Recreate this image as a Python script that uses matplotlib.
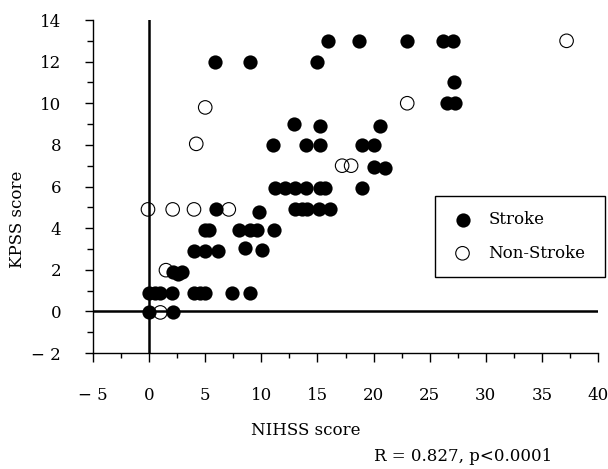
import matplotlib.pyplot as plt
from matplotlib.ticker import MultipleLocator, FixedLocator

plt.rcParams["font.family"] = ["DejaVu Serif"]
plt.rcParams["font.size"] = 12

# Data
stroke_x = [15.9, 18.7, 23.0, 26.2, 27.1,
            5.9, 9.0, 15.0,
            27.2,
            26.5, 27.3,
            12.9, 15.2, 20.6,
            11.0, 14.0, 15.2, 19.0, 20.0,
            20.0, 21.0,
            11.2, 12.1, 13.0, 14.0, 15.2, 15.7, 19.0,
            6.0, 13.0, 13.6, 14.1, 15.1, 16.1, 9.8,
            5.0, 5.3, 8.0, 9.0, 9.6, 11.1,
            4.0, 5.0, 6.1, 8.5, 10.1,
            2.1, 2.6, 2.9,
            0.0, 0.5, 1.0, 2.0, 4.0, 4.5, 5.0, 7.4, 9.0,
            0.0, 2.1]
stroke_y = [13.0, 13.0, 13.0, 13.0, 13.0,
            12.0, 12.0, 12.0,
            11.0,
            10.0, 10.0,
            9.0, 8.9, 8.9,
            8.0, 8.0, 8.0, 8.0, 8.0,
            6.95, 6.9,
            5.93, 5.93, 5.93, 5.93, 5.93, 5.93, 5.93,
            4.9, 4.9, 4.9, 4.9, 4.9, 4.9, 4.78,
            3.93, 3.93, 3.93, 3.93, 3.93, 3.93,
            2.9, 2.9, 2.9, 3.05, 2.95,
            1.9, 1.8, 1.9,
            0.88, 0.88, 0.88, 0.88, 0.88, 0.88, 0.88, 0.88, 0.88,
            -0.05, -0.05]
nonstroke_x = [37.2, 5.0, 4.2, 23.0, 17.2, 18.0, -0.1, 2.1, 4.0, 7.1, 1.5, 1.0]
nonstroke_y = [13.0, 9.8, 8.05, 10.0, 7.0, 7.0, 4.9, 4.9, 4.9, 4.9, 1.98, -0.05]

x_ticks = [-5, 0, 5, 10, 15, 20, 25, 30, 35, 40]
x_labels = ["\u2212 5", "0", "5", "10", "15", "20", "25", "30", "35", "40"]
y_ticks = [-2, 0, 2, 4, 6, 8, 10, 12, 14]
y_labels = ["\u2212 2", "0", "2", "4", "6", "8", "10", "12", "14"]

fig = plt.figure(figsize=(6.08, 4.69), dpi=100)
ax = fig.add_axes([93 / 608, 1 - 353 / 469, 505 / 608, 333 / 469])

ax.axhline(0, color="black", lw=1.8, zorder=1)
ax.axvline(0, color="black", lw=1.8, zorder=1)

ax.scatter(nonstroke_x, nonstroke_y, s=95, facecolors="none",
           edgecolors="black", linewidths=0.8, zorder=2, label="Non-Stroke")
ax.scatter(stroke_x, stroke_y, s=105, color="black", linewidths=0,
           zorder=3, label="Stroke")

ax.set_xlim(-5, 40)
ax.set_ylim(-2, 14)
ax.spines["top"].set_visible(False)
ax.spines["right"].set_visible(False)
ax.spines["left"].set_linewidth(1.0)
ax.spines["bottom"].set_linewidth(1.0)

ax.xaxis.set_major_locator(FixedLocator(x_ticks))
ax.set_xticklabels(x_labels)
ax.xaxis.set_minor_locator(MultipleLocator(2.5))
ax.yaxis.set_major_locator(FixedLocator(y_ticks))
ax.set_yticklabels(y_labels)
ax.yaxis.set_minor_locator(MultipleLocator(1))
ax.tick_params(axis="x", which="major", direction="out", length=6.5, width=1, pad=18)
ax.tick_params(axis="x", which="minor", direction="out", length=3.5, width=1)
ax.tick_params(axis="y", which="major", direction="out", length=6, width=1, pad=17)
ax.tick_params(axis="y", which="minor", direction="out", length=4, width=1)

ax.set_xlabel("NIHSS score")
ax.xaxis.set_label_coords(0.422, -0.207)
ax.set_ylabel("KPSS score")
ax.yaxis.set_label_coords(-0.132, 0.402)

fig.text(463 / 608, 1 - 456 / 469, "R = 0.827, p<0.0001", ha="center", va="center")

handles, labels = ax.get_legend_handles_labels()
ax.legend(handles[::-1], labels[::-1], loc="upper left",
          bbox_to_anchor=(435 / 608, 1 - 196 / 469 - 0.01, 170 / 608, 0.01),
          bbox_transform=fig.transFigure, mode="expand", borderaxespad=0,
          fancybox=False, edgecolor="black", framealpha=1,
          labelspacing=1.0, borderpad=0.9, handletextpad=0.8, handlelength=1.5)

fig.savefig("out.png", dpi=100)
